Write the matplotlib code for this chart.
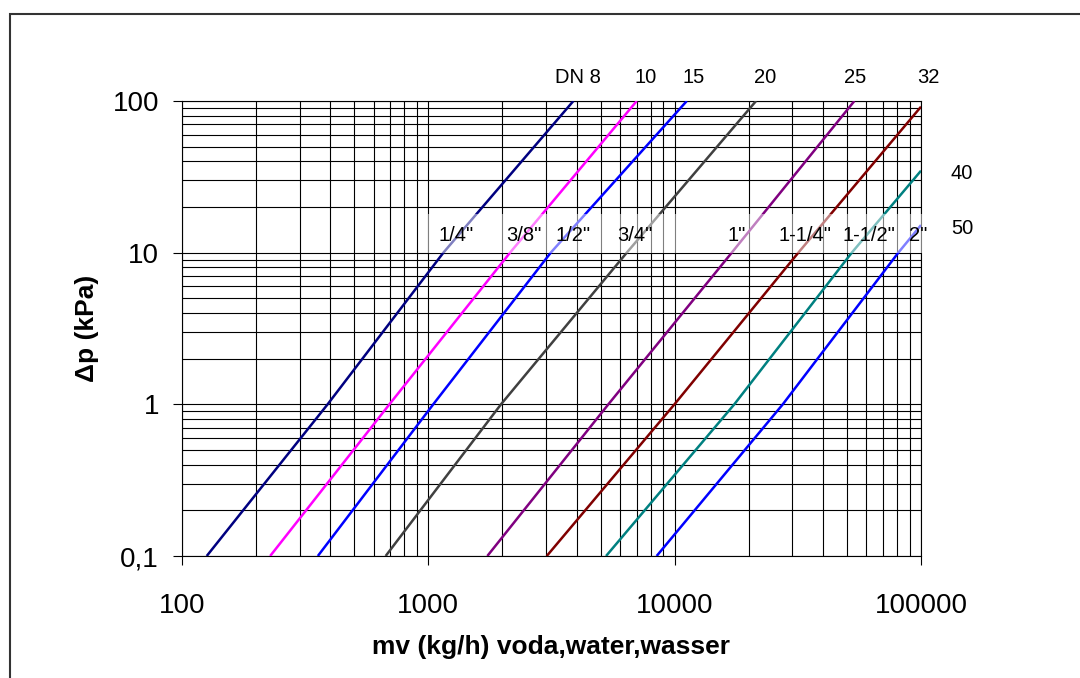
import numpy as np
import matplotlib
matplotlib.use("Agg")
import matplotlib.pyplot as plt
from matplotlib.patches import Rectangle

plt.rcParams['font.family'] = ['Liberation Sans', 'DejaVu Sans']

# pressure drop levels where each curve was read (kPa)
dp_levels = [0.1, 1, 10, 100]

# flow (kg/h) per curve at those pressure drops
flow_dn8 = [126, 390, 1151, 3880]
flow_dn10 = [228, 695, 2146, 7015]
flow_dn15 = [356, 1047, 3140, 11200]
flow_dn20 = [671, 1972, 6390, 21400]
flow_dn25 = [1736, 5380, 17050, 53650]
# the last three curves leave through the right edge
flow_dn32 = [3025, 9980, 31770, 100000]
dp_dn32 = [0.1, 1, 10, 91.7]
flow_dn40 = [5266, 17460, 52360, 100000]
dp_dn40 = [0.1, 1, 10, 34.7]
flow_dn50 = [8450, 27470, 80900, 100000]
dp_dn50 = [0.1, 1, 10, 15.2]

curves = [
    (flow_dn8, dp_levels, '#000080'),
    (flow_dn10, dp_levels, '#ff00ff'),
    (flow_dn15, dp_levels, '#0000ff'),
    (flow_dn20, dp_levels, '#404040'),
    (flow_dn25, dp_levels, '#800080'),
    (flow_dn32, dp_dn32, '#800000'),
    (flow_dn40, dp_dn40, '#008080'),
    (flow_dn50, dp_dn50, '#0000ff'),
]

dn_labels = ['DN 8', '10', '15', '20', '25', '32']
dn_side_labels = ['40', '50']
inch_labels = ['1/4"', '3/8"', '1/2"', '3/4"', '1"', '1-1/4"', '1-1/2"', '2"']

fig = plt.figure(figsize=(10.8, 6.78), dpi=100)
fig.subplots_adjust(left=182/1080, right=921/1080, top=1-101/678, bottom=1-556/678)
ax = fig.add_subplot(111)

for fx, fy, col in curves:
    ax.plot(fx, fy, color=col, lw=1.8, solid_capstyle='butt', zorder=3)

ax.set_xscale('log')
ax.set_yscale('log')
ax.set_xlim(100, 100000)
ax.set_ylim(0.1, 100)

ax.set_xticks([100, 1000, 10000, 100000])
ax.set_xticklabels(['100', '1000', '10000', '100000'])
ax.set_yticks([0.1, 1, 10, 100])
ax.set_yticklabels(['0,1', '1', '10', '100'])
ax.tick_params(which='major', direction='out', length=6.5, width=0.8,
               labelsize=20, color='black')
ax.tick_params(axis='x', pad=20)
ax.tick_params(axis='y', pad=10)
ax.tick_params(which='minor', length=0)

ax.grid(True, which='both', color='black', lw=0.8, zorder=1)
ax.set_axisbelow(True)
for s in ax.spines.values():
    s.set_color('black')
    s.set_linewidth(0.8)

ax.set_xlabel('mv (kg/h) voda,water,wasser', fontsize=19, fontweight='bold', labelpad=12)
ax.set_ylabel('Δp (kPa)', fontsize=19, fontweight='bold', labelpad=10)

# translucent band behind the inch labels
band = Rectangle((0.333, 0.666), 0.675, 0.086, transform=ax.transAxes,
                 facecolor='white', alpha=0.5, edgecolor='none',
                 clip_on=False, zorder=4)
ax.add_patch(band)

dn_x = [0.536, 0.627, 0.692, 0.789, 0.911, 1.0095]
for lab, xp in zip(dn_labels, dn_x):
    ax.text(xp, 1.0396, lab, transform=ax.transAxes, ha='center', va='baseline',
            fontsize=14.5)

side_y = [0.828, 0.7077]
for lab, yp in zip(dn_side_labels, side_y):
    ax.text(1.0555, yp, lab, transform=ax.transAxes, ha='center', va='baseline',
            fontsize=14.5)

inch_x = [0.371, 0.463, 0.529, 0.613, 0.751, 0.843, 0.930, 0.996]
for lab, xp in zip(inch_labels, inch_x):
    ax.text(xp, 0.692, lab, transform=ax.transAxes, ha='center', va='baseline',
            fontsize=14.5, zorder=5)

# outer frame (only top and left edges fall inside the picture)
frame = Rectangle((10/1080, -0.5), 2, 1.5 - 14/678, transform=fig.transFigure,
                  facecolor='none', edgecolor='#333333', lw=1.5)
fig.add_artist(frame)

plt.savefig('out.png', dpi=100)
